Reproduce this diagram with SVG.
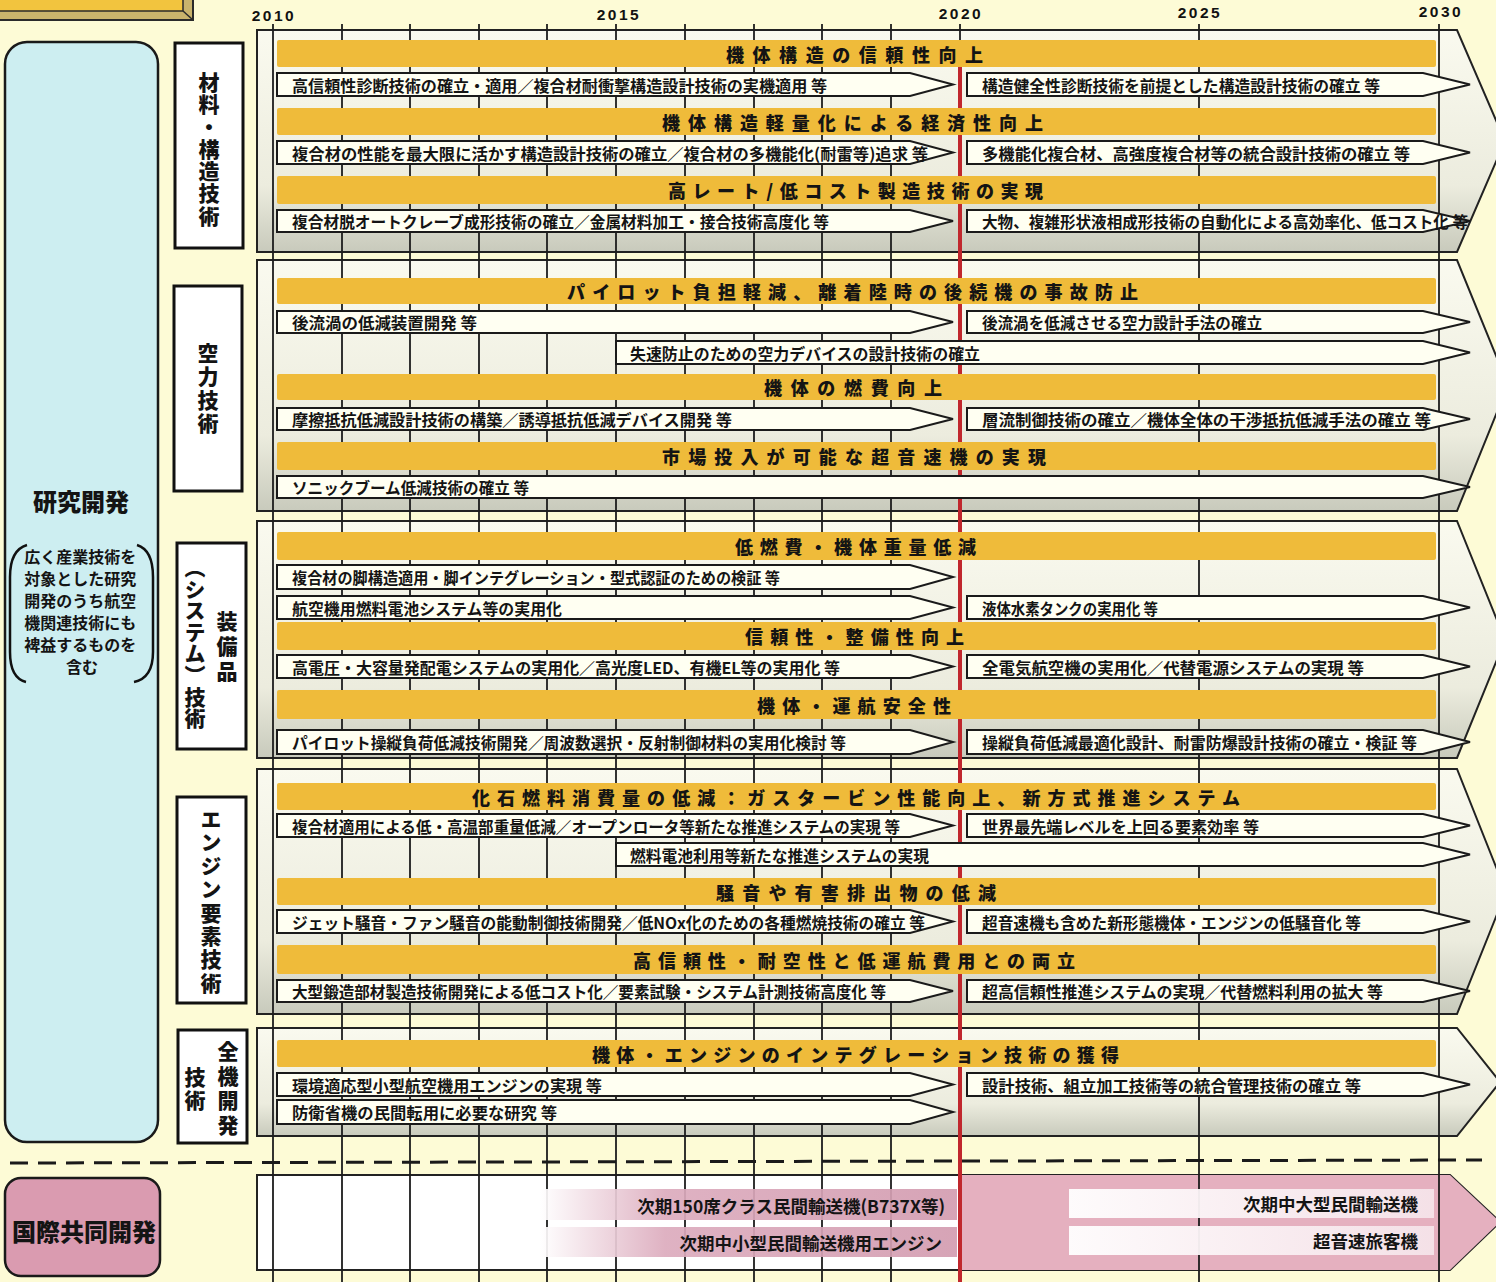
<svg xmlns="http://www.w3.org/2000/svg" width="1496" height="1282" viewBox="0 0 1496 1282">
<defs>
<linearGradient id="pg" x1="0" y1="0" x2="0" y2="1">
<stop offset="0" stop-color="#fafaef"/>
<stop offset="0.7" stop-color="#ececde"/>
<stop offset="1" stop-color="#c8cabc"/>
</linearGradient>
<linearGradient id="pinkL" x1="0" y1="0" x2="1" y2="0">
<stop offset="0" stop-color="#ffffff"/>
<stop offset="0.3" stop-color="#dcabbd"/>
<stop offset="1" stop-color="#d39cb0"/>
</linearGradient>
<linearGradient id="pinkR" x1="0" y1="0" x2="1" y2="0">
<stop offset="0" stop-color="#ffffff"/>
<stop offset="1" stop-color="#f5e3e9"/>
</linearGradient>
<style>
.jp{font-family:'Noto Sans CJK JP',sans-serif;fill:#141414}
.panel{fill:url(#pg);stroke:#222;stroke-width:2}
.grid{stroke:#1c1c1c;stroke-width:1.8}
.band{fill:#efbb3a}
.bt{font-size:18px;font-weight:900;dominant-baseline:central}
.arr{fill:#fffff2;stroke:#1a1a1a;stroke-width:2}
.rt{font-size:16px;font-weight:700;dominant-baseline:central}
.cat{fill:#ffffff;stroke:#111;stroke-width:3}
.vt{font-size:21px;font-weight:900;writing-mode:vertical-rl;text-anchor:start}
.yr{font-family:'Liberation Sans',Arial,sans-serif;font-weight:700;font-size:15.5px;letter-spacing:2.5px;text-anchor:middle;fill:#111}
.bar{font-size:17.5px;font-weight:700;text-anchor:end;dominant-baseline:central}
</style>
</defs>
<rect x="0" y="0" width="1496" height="1282" fill="#fdfbd6"/>

<!-- top-left gold box -->
<g id="title-box">
<rect x="-4" y="-4" width="197" height="24" fill="#c9b36c" stroke="#2a2a2a" stroke-width="2"/>
<rect x="-4" y="-4" width="187" height="15" fill="#f2c43e" stroke="#2a2a2a" stroke-width="1.5"/>
<line x1="183" y1="11" x2="193" y2="20" stroke="#2a2a2a" stroke-width="1.5"/>
</g>

<!-- left category boxes -->
<g id="research">
<rect x="5" y="42" width="153" height="1100" rx="22" fill="#cdeef1" stroke="#1a1a1a" stroke-width="2.5"/>
<text class="jp" x="81" y="500" font-size="24" font-weight="900" text-anchor="middle" dominant-baseline="central">研究開発</text>
<path d="M 27,545 Q 10,550 10,577 L 10,652 Q 10,678 26,682" fill="none" stroke="#111" stroke-width="2.5"/>
<path d="M 137,545 Q 153,550 153,577 L 153,652 Q 153,678 134,682" fill="none" stroke="#111" stroke-width="2.5"/>
<text class="jp" font-size="16" font-weight="700" text-anchor="middle" dominant-baseline="central">
<tspan x="82" y="556">広く産業技術を</tspan>
<tspan x="82" y="578">対象とした研究</tspan>
<tspan x="82" y="600">開発のうち航空</tspan>
<tspan x="82" y="622">機関連技術にも</tspan>
<tspan x="82" y="644">裨益するものを</tspan>
<tspan x="82" y="666">含む</tspan>
</text>
</g>
<g id="intl">
<rect x="5" y="1178" width="155" height="98" rx="16" fill="#da9bb0" stroke="#1a1a1a" stroke-width="2.5"/>
<text class="jp" x="84" y="1230" font-size="24" font-weight="900" text-anchor="middle" dominant-baseline="central">国際共同開発</text>
</g>

<!-- section panels -->
<g id="panels">
<polygon class="panel" points="257,30 1457,30 1505,141 1457,252 257,252"/>
<polygon class="panel" points="257,260 1457,260 1508,385 1457,511 257,511"/>
<polygon class="panel" points="257,521 1457,521 1505,640 1457,758 257,758"/>
<polygon class="panel" points="257,769 1457,769 1506,892 1457,1014 257,1014"/>
<polygon class="panel" points="257,1028 1457,1028 1500,1082 1457,1136 257,1136"/>
<polygon points="257,1175 1450,1175 1500,1222 1450,1270 257,1270" fill="#ffffff" stroke="#222" stroke-width="2"/>
<polygon points="960,1175 1450,1175 1500,1222 1450,1270 960,1270" fill="#e5b0bf"/>
</g>

<!-- grid lines -->
<g id="grid">
<line class="grid" x1="273" y1="24" x2="273" y2="1282"/>
<line class="grid" x1="342" y1="24" x2="342" y2="1282"/>
<line class="grid" x1="410" y1="24" x2="410" y2="1282"/>
<line class="grid" x1="479" y1="24" x2="479" y2="1282"/>
<line class="grid" x1="547" y1="24" x2="547" y2="1282"/>
<line class="grid" x1="616" y1="24" x2="616" y2="1282"/>
<line class="grid" x1="685" y1="24" x2="685" y2="1282"/>
<line class="grid" x1="754" y1="24" x2="754" y2="1282"/>
<line class="grid" x1="822" y1="24" x2="822" y2="1282"/>
<line class="grid" x1="891" y1="24" x2="891" y2="1282"/>
<line class="grid" x1="960" y1="24" x2="960" y2="68"/>
<line class="grid" x1="1199" y1="24" x2="1199" y2="1282"/>
<line class="grid" x1="1439" y1="24" x2="1439" y2="1282"/>
<line x1="960" y1="66" x2="960" y2="1282" stroke="#c0272d" stroke-width="4"/>
<line x1="10" y1="1163" x2="1482" y2="1160" stroke="#1a1a1a" stroke-width="3" stroke-dasharray="18 10"/>
</g>

<!-- years -->
<g id="years">
<text class="yr" x="274" y="21">2010</text>
<text class="yr" x="619" y="20">2015</text>
<text class="yr" x="961" y="19">2020</text>
<text class="yr" x="1200" y="18">2025</text>
<text class="yr" x="1441" y="17">2030</text>
</g>

<!-- category label boxes -->
<g id="cat-material">
<rect class="cat" x="175" y="43" width="68" height="205"/>
<text class="jp vt" x="209" y="71.5" letter-spacing="1.3">材料・構造技術</text>
</g>
<g id="cat-aero">
<rect class="cat" x="174" y="286" width="68" height="205"/>
<text class="jp vt" x="208" y="342.5" letter-spacing="2.3">空力技術</text>
</g>
<g id="cat-equip">
<rect class="cat" x="177" y="543" width="69" height="206"/>
<text class="jp vt" x="227" y="610.5" letter-spacing="4">装備品</text>
<text class="jp vt" x="195" y="556.5" letter-spacing="0.6">（システム）技術</text>
</g>
<g id="cat-engine">
<rect class="cat" x="177" y="797" width="69" height="206"/>
<text class="jp vt" x="211" y="808.5" letter-spacing="2.4">エンジン要素技術</text>
</g>
<g id="cat-whole">
<rect class="cat" x="178" y="1030" width="69" height="113"/>
<text class="jp vt" x="228" y="1040.5" letter-spacing="3.7">全機開発</text>
<text class="jp vt" x="195" y="1066.5" letter-spacing="2">技術</text>
</g>

<!-- Section 1 -->
<g id="s1-b1"><rect class="band" x="277" y="40" width="1159" height="27" rx="2"/><text class="jp bt" x="726" y="53.5" textLength="257" lengthAdjust="spacing">機体構造の信頼性向上</text></g>
<g id="s1-r1-l"><polygon class="arr" points="277,73 910,73 953,84.5 910,96 277,96"/><text class="jp rt" x="292" y="84.5" textLength="535" lengthAdjust="spacingAndGlyphs">高信頼性診断技術の確立・適用／複合材耐衝撃構造設計技術の実機適用 等</text></g>
<g id="s1-r1-r"><polygon class="arr" points="967,73 1423,73 1470,84.5 1423,96 967,96"/><text class="jp rt" x="982" y="84.5" textLength="398" lengthAdjust="spacingAndGlyphs">構造健全性診断技術を前提とした構造設計技術の確立 等</text></g>
<g id="s1-b2"><rect class="band" x="277" y="108" width="1159" height="27" rx="2"/><text class="jp bt" x="662" y="121.5" textLength="381" lengthAdjust="spacing">機体構造軽量化による経済性向上</text></g>
<g id="s1-r2-l"><polygon class="arr" points="277,141 910,141 953,152.5 910,164 277,164"/><text class="jp rt" x="292" y="152.5" textLength="636" lengthAdjust="spacingAndGlyphs">複合材の性能を最大限に活かす構造設計技術の確立／複合材の多機能化(耐雷等)追求 等</text></g>
<g id="s1-r2-r"><polygon class="arr" points="967,141 1423,141 1470,152.5 1423,164 967,164"/><text class="jp rt" x="982" y="152.5" textLength="428" lengthAdjust="spacingAndGlyphs">多機能化複合材、高強度複合材等の統合設計技術の確立 等</text></g>
<g id="s1-b3"><rect class="band" x="277" y="176" width="1159" height="28" rx="2"/><text class="jp bt" x="668" y="190" textLength="375" lengthAdjust="spacing">高レート/低コスト製造技術の実現</text></g>
<g id="s1-r3-l"><polygon class="arr" points="277,210 910,210 953,221 910,232 277,232"/><text class="jp rt" x="292" y="221" textLength="537" lengthAdjust="spacingAndGlyphs">複合材脱オートクレーブ成形技術の確立／金属材料加工・接合技術高度化 等</text></g>
<g id="s1-r3-r"><polygon class="arr" points="967,210 1423,210 1470,221 1423,232 967,232"/><text class="jp rt" x="982" y="221" textLength="486" lengthAdjust="spacingAndGlyphs">大物、複雑形状液相成形技術の自動化による高効率化、低コスト化 等</text></g>

<!-- Section 2 -->
<g id="s2-b1"><rect class="band" x="277" y="278" width="1159" height="26" rx="2"/><text class="jp bt" x="567" y="291" textLength="571" lengthAdjust="spacing">パイロット負担軽減、離着陸時の後続機の事故防止</text></g>
<g id="s2-r1-l"><polygon class="arr" points="277,311 910,311 953,322 910,333 277,333"/><text class="jp rt" x="292" y="322" textLength="185" lengthAdjust="spacingAndGlyphs">後流渦の低減装置開発 等</text></g>
<g id="s2-r1-r"><polygon class="arr" points="967,311 1423,311 1470,322 1423,333 967,333"/><text class="jp rt" x="982" y="322" textLength="280" lengthAdjust="spacingAndGlyphs">後流渦を低減させる空力設計手法の確立</text></g>
<g id="s2-r2"><polygon class="arr" points="616,341 1423,341 1470,352.5 1423,364 616,364"/><text class="jp rt" x="630" y="352.5" textLength="350" lengthAdjust="spacingAndGlyphs">失速防止のための空力デバイスの設計技術の確立</text></g>
<g id="s2-b2"><rect class="band" x="277" y="374" width="1159" height="26" rx="2"/><text class="jp bt" x="764" y="387" textLength="178" lengthAdjust="spacing">機体の燃費向上</text></g>
<g id="s2-r3-l"><polygon class="arr" points="277,408 910,408 953,419 910,430 277,430"/><text class="jp rt" x="292" y="419" textLength="440" lengthAdjust="spacingAndGlyphs">摩擦抵抗低減設計技術の構築／誘導抵抗低減デバイス開発 等</text></g>
<g id="s2-r3-r"><polygon class="arr" points="967,408 1423,408 1470,419 1423,430 967,430"/><text class="jp rt" x="982" y="419" textLength="449" lengthAdjust="spacingAndGlyphs">層流制御技術の確立／機体全体の干渉抵抗低減手法の確立 等</text></g>
<g id="s2-b3"><rect class="band" x="277" y="442" width="1159" height="28" rx="2"/><text class="jp bt" x="662" y="456" textLength="384" lengthAdjust="spacing">市場投入が可能な超音速機の実現</text></g>
<g id="s2-r4"><polygon class="arr" points="277,476 1423,476 1470,487 1423,498 277,498"/><text class="jp rt" x="292" y="487" textLength="237" lengthAdjust="spacingAndGlyphs">ソニックブーム低減技術の確立 等</text></g>

<!-- Section 3 -->
<g id="s3-b1"><rect class="band" x="277" y="532" width="1159" height="28" rx="2"/><text class="jp bt" x="735" y="546" textLength="241" lengthAdjust="spacing">低燃費・機体重量低減</text></g>
<g id="s3-r1-l"><polygon class="arr" points="277,565 910,565 953,577 910,589 277,589"/><text class="jp rt" x="292" y="577" textLength="488" lengthAdjust="spacingAndGlyphs">複合材の脚構造適用・脚インテグレーション・型式認証のための検証 等</text></g>
<g id="s3-r2-l"><polygon class="arr" points="277,596 910,596 953,607.5 910,619 277,619"/><text class="jp rt" x="292" y="607.5" textLength="270" lengthAdjust="spacingAndGlyphs">航空機用燃料電池システム等の実用化</text></g>
<g id="s3-r2-r"><polygon class="arr" points="967,596 1423,596 1470,607.5 1423,619 967,619"/><text class="jp rt" x="982" y="607.5" textLength="176" lengthAdjust="spacingAndGlyphs">液体水素タンクの実用化 等</text></g>
<g id="s3-b2"><rect class="band" x="277" y="622" width="1159" height="28" rx="2"/><text class="jp bt" x="745" y="636" textLength="219" lengthAdjust="spacing">信頼性・整備性向上</text></g>
<g id="s3-r3-l"><polygon class="arr" points="277,655 910,655 953,666.5 910,678 277,678"/><text class="jp rt" x="292" y="666.5" textLength="548" lengthAdjust="spacingAndGlyphs">高電圧・大容量発配電システムの実用化／高光度LED、有機EL等の実用化 等</text></g>
<g id="s3-r3-r"><polygon class="arr" points="967,655 1423,655 1470,666.5 1423,678 967,678"/><text class="jp rt" x="982" y="666.5" textLength="382" lengthAdjust="spacingAndGlyphs">全電気航空機の実用化／代替電源システムの実現 等</text></g>
<g id="s3-b3"><rect class="band" x="277" y="690" width="1159" height="29" rx="2"/><text class="jp bt" x="757" y="704.5" textLength="194" lengthAdjust="spacing">機体・運航安全性</text></g>
<g id="s3-r4-l"><polygon class="arr" points="277,730 910,730 953,742 910,754 277,754"/><text class="jp rt" x="292" y="742" textLength="554" lengthAdjust="spacingAndGlyphs">パイロット操縦負荷低減技術開発／周波数選択・反射制御材料の実用化検討 等</text></g>
<g id="s3-r4-r"><polygon class="arr" points="967,730 1423,730 1470,742 1423,754 967,754"/><text class="jp rt" x="982" y="742" textLength="435" lengthAdjust="spacingAndGlyphs">操縦負荷低減最適化設計、耐雷防爆設計技術の確立・検証 等</text></g>

<!-- Section 4 -->
<g id="s4-b1"><rect class="band" x="277" y="783" width="1159" height="27" rx="2"/><text class="jp bt" x="472" y="796.5" textLength="768" lengthAdjust="spacing">化石燃料消費量の低減：ガスタービン性能向上、新方式推進システム</text></g>
<g id="s4-r1-l"><polygon class="arr" points="277,814 910,814 953,825.5 910,837 277,837"/><text class="jp rt" x="292" y="825.5" textLength="608" lengthAdjust="spacingAndGlyphs">複合材適用による低・高温部重量低減／オープンロータ等新たな推進システムの実現 等</text></g>
<g id="s4-r1-r"><polygon class="arr" points="967,814 1423,814 1470,825.5 1423,837 967,837"/><text class="jp rt" x="982" y="825.5" textLength="277" lengthAdjust="spacingAndGlyphs">世界最先端レベルを上回る要素効率 等</text></g>
<g id="s4-r2"><polygon class="arr" points="616,843 1423,843 1470,854.5 1423,866 616,866"/><text class="jp rt" x="630" y="854.5" textLength="299" lengthAdjust="spacingAndGlyphs">燃料電池利用等新たな推進システムの実現</text></g>
<g id="s4-b2"><rect class="band" x="277" y="878" width="1159" height="27" rx="2"/><text class="jp bt" x="716" y="891.5" textLength="280" lengthAdjust="spacing">騒音や有害排出物の低減</text></g>
<g id="s4-r3-l"><polygon class="arr" points="277,910 910,910 953,921.5 910,933 277,933"/><text class="jp rt" x="292" y="921.5" textLength="633" lengthAdjust="spacingAndGlyphs">ジェット騒音・ファン騒音の能動制御技術開発／低NOx化のための各種燃焼技術の確立 等</text></g>
<g id="s4-r3-r"><polygon class="arr" points="967,910 1423,910 1470,921.5 1423,933 967,933"/><text class="jp rt" x="982" y="921.5" textLength="379" lengthAdjust="spacingAndGlyphs">超音速機も含めた新形態機体・エンジンの低騒音化 等</text></g>
<g id="s4-b3"><rect class="band" x="277" y="945" width="1159" height="29" rx="2"/><text class="jp bt" x="633" y="959.5" textLength="442" lengthAdjust="spacing">高信頼性・耐空性と低運航費用との両立</text></g>
<g id="s4-r4-l"><polygon class="arr" points="277,980 910,980 953,991 910,1002 277,1002"/><text class="jp rt" x="292" y="991" textLength="594" lengthAdjust="spacingAndGlyphs">大型鍛造部材製造技術開発による低コスト化／要素試験・システム計測技術高度化 等</text></g>
<g id="s4-r4-r"><polygon class="arr" points="967,980 1423,980 1470,991 1423,1002 967,1002"/><text class="jp rt" x="982" y="991" textLength="401" lengthAdjust="spacingAndGlyphs">超高信頼性推進システムの実現／代替燃料利用の拡大 等</text></g>

<!-- Section 5 -->
<g id="s5-b1"><rect class="band" x="277" y="1040" width="1159" height="27" rx="2"/><text class="jp bt" x="592" y="1053.5" textLength="527" lengthAdjust="spacing">機体・エンジンのインテグレーション技術の獲得</text></g>
<g id="s5-r1-l"><polygon class="arr" points="277,1073 910,1073 953,1084.5 910,1096 277,1096"/><text class="jp rt" x="292" y="1084.5" textLength="310" lengthAdjust="spacingAndGlyphs">環境適応型小型航空機用エンジンの実現 等</text></g>
<g id="s5-r1-r"><polygon class="arr" points="967,1073 1423,1073 1470,1084.5 1423,1096 967,1096"/><text class="jp rt" x="982" y="1084.5" textLength="379" lengthAdjust="spacingAndGlyphs">設計技術、組立加工技術等の統合管理技術の確立 等</text></g>
<g id="s5-r2-l"><polygon class="arr" points="277,1100 910,1100 953,1112 910,1124 277,1124"/><text class="jp rt" x="292" y="1112" textLength="265" lengthAdjust="spacingAndGlyphs">防衛省機の民間転用に必要な研究 等</text></g>

<!-- International joint development bars -->
<g id="intl-b1"><rect x="540" y="1189" width="417" height="31" fill="url(#pinkL)" opacity="0.92"/><text class="jp bar" x="945" y="1205">次期150席クラス民間輸送機(B737X等)</text></g>
<g id="intl-b2"><rect x="540" y="1227" width="417" height="30" fill="url(#pinkL)" opacity="0.92"/><text class="jp bar" x="942" y="1242">次期中小型民間輸送機用エンジン</text></g>
<g id="intl-b3"><rect x="1069" y="1189" width="365" height="29" fill="url(#pinkR)" opacity="0.95"/><text class="jp bar" x="1418" y="1203.5">次期中大型民間輸送機</text></g>
<g id="intl-b4"><rect x="1069" y="1226" width="365" height="29" fill="url(#pinkR)" opacity="0.95"/><text class="jp bar" x="1418" y="1240.5">超音速旅客機</text></g>
</svg>
